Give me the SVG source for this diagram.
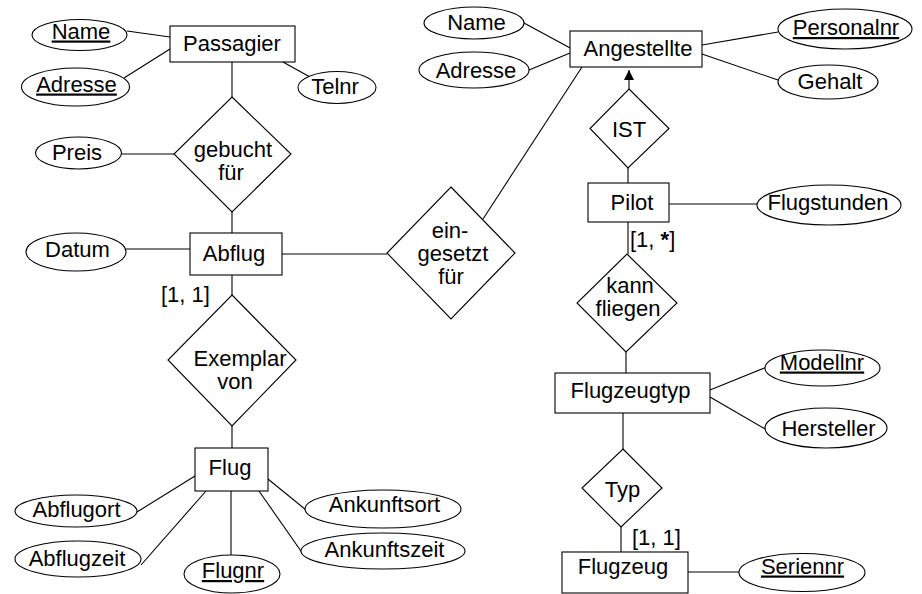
<svg xmlns="http://www.w3.org/2000/svg" width="922" height="594" viewBox="0 0 922 594">
<style>
  .shape { fill: #fff; stroke: #000; stroke-width: 1.1; }
  .conn line { stroke: #000; stroke-width: 1.1; }
  text { font-family: "Liberation Sans", Arial, Helvetica, sans-serif; font-size: 22px; fill: #000; }
  .c { text-anchor: middle; }
  .key { text-decoration: underline; }
</style>
<defs>
  <marker id="arrow" viewBox="0 0 10 10" refX="10" refY="5" markerWidth="10" markerHeight="12" markerUnits="userSpaceOnUse" orient="auto">
    <path d="M0,0 L10,5 L0,10 Z" fill="#000"/>
  </marker>
</defs>
<rect width="922" height="594" fill="#fff"/>

<g id="connectors" class="conn">
  <line x1="127" y1="31" x2="170" y2="37"/>
  <line x1="124" y1="78" x2="170" y2="49"/>
  <line x1="283" y1="62" x2="310" y2="77"/>
  <line x1="232" y1="62" x2="232" y2="97"/>
  <line x1="121.5" y1="154" x2="174" y2="154"/>
  <line x1="232" y1="212" x2="232" y2="233"/>
  <line x1="126" y1="249" x2="190" y2="249"/>
  <line x1="282" y1="254" x2="387" y2="254"/>
  <line x1="232" y1="275" x2="232" y2="295"/>
  <line x1="232" y1="426" x2="232" y2="448"/>
  <line x1="195" y1="476" x2="137" y2="512"/>
  <line x1="206" y1="491" x2="141" y2="565"/>
  <line x1="231" y1="491" x2="231" y2="555"/>
  <line x1="268" y1="479" x2="306" y2="510"/>
  <line x1="259" y1="491" x2="303" y2="554"/>
  <line x1="524" y1="23" x2="572" y2="49"/>
  <line x1="529" y1="70" x2="570" y2="53"/>
  <line x1="702" y1="45" x2="778" y2="32"/>
  <line x1="702" y1="54" x2="778" y2="80"/>
  <line x1="582" y1="67" x2="483" y2="219"/>
  <line x1="629" y1="89" x2="629" y2="70" marker-end="url(#arrow)"/>
  <line x1="628" y1="168" x2="628" y2="183"/>
  <line x1="669" y1="204" x2="757" y2="204"/>
  <line x1="628" y1="222" x2="628" y2="254"/>
  <line x1="626" y1="352" x2="626" y2="373"/>
  <line x1="710" y1="390" x2="767" y2="367"/>
  <line x1="710" y1="397" x2="767" y2="430"/>
  <line x1="623" y1="413" x2="623" y2="449"/>
  <line x1="621" y1="527" x2="621" y2="552"/>
  <line x1="688" y1="572" x2="739" y2="572"/>
</g>

<g id="passagier"><rect class="shape" x="170" y="26" width="125" height="36"/><text class="c" x="232" y="51">Passagier</text></g>
<g id="passagier-name"><ellipse class="shape" cx="79.5" cy="35" rx="47.5" ry="15.5"/><text class="c key" x="81" y="38.5">Name</text></g>
<g id="passagier-adresse"><ellipse class="shape" cx="75.5" cy="87" rx="54" ry="19"/><text class="c key" x="76.5" y="91.5">Adresse</text></g>
<g id="passagier-telnr"><ellipse class="shape" cx="337" cy="87.5" rx="39" ry="16"/><text class="c" x="335" y="94">Telnr</text></g>
<g id="gebucht-fuer"><polygon class="shape" points="232,97 291,154 232,212 174,154"/><text class="c" x="233" y="156.5">gebucht</text><text class="c" x="231" y="179.5">für</text></g>
<g id="preis"><ellipse class="shape" cx="78.5" cy="153" rx="43" ry="16"/><text class="c" x="77" y="159.5">Preis</text></g>
<g id="abflug"><rect class="shape" x="190" y="233" width="92" height="42"/><text class="c" x="234" y="261">Abflug</text></g>
<g id="datum"><ellipse class="shape" cx="76" cy="252" rx="50" ry="19"/><text class="c" x="77.5" y="256.5">Datum</text></g>
<g id="exemplar-von"><polygon class="shape" points="232,295 296,360 232,426 168,360"/><text class="c" x="240" y="366">Exemplar</text><text class="c" x="235" y="389">von</text></g>
<g id="flug"><rect class="shape" x="195" y="448" width="73" height="43"/><text class="c" x="230" y="475">Flug</text></g>
<g id="abflugort"><ellipse class="shape" cx="76" cy="511" rx="61" ry="16"/><text class="c" x="76.5" y="517">Abflugort</text></g>
<g id="abflugzeit"><ellipse class="shape" cx="78" cy="559" rx="63" ry="18"/><text class="c" x="77" y="566">Abflugzeit</text></g>
<g id="flugnr"><ellipse class="shape" cx="232" cy="574" rx="48" ry="19"/><text class="c key" x="233" y="578">Flugnr</text></g>
<g id="ankunftsort"><ellipse class="shape" cx="383" cy="509" rx="78" ry="19"/><text class="c" x="384.5" y="511.5">Ankunftsort</text></g>
<g id="ankunftszeit"><ellipse class="shape" cx="383" cy="551" rx="82" ry="18"/><text class="c" x="384.5" y="556.5">Ankunftszeit</text></g>
<g id="eingesetzt-fuer"><polygon class="shape" points="451,187 515,253 451,319 387,253"/><text class="c" x="450" y="238">ein-</text><text class="c" x="453" y="261">gesetzt</text><text class="c" x="451" y="284">für</text></g>
<g id="angestellte"><rect class="shape" x="570" y="31" width="132" height="36"/><text class="c" x="638" y="56">Angestellte</text></g>
<g id="angestellte-name"><ellipse class="shape" cx="474" cy="23" rx="50" ry="16"/><text class="c" x="476.5" y="29.5">Name</text></g>
<g id="angestellte-adresse"><ellipse class="shape" cx="474" cy="70" rx="55" ry="18"/><text class="c" x="476" y="77.5">Adresse</text></g>
<g id="personalnr"><ellipse class="shape" cx="845" cy="29" rx="67" ry="20"/><text class="c key" x="846" y="35">Personalnr</text></g>
<g id="gehalt"><ellipse class="shape" cx="828" cy="82" rx="50" ry="17"/><text class="c" x="830" y="89">Gehalt</text></g>
<g id="ist"><polygon class="shape" points="629,89 669,128.5 628,168 590,128.5"/><text class="c" x="629" y="136.5">IST</text></g>
<g id="pilot"><rect class="shape" x="588" y="183" width="81" height="39"/><text class="c" x="632" y="210">Pilot</text></g>
<g id="flugstunden"><ellipse class="shape" cx="829" cy="205" rx="72" ry="20"/><text class="c" x="828" y="210">Flugstunden</text></g>
<g id="kann-fliegen"><polygon class="shape" points="627,254 677,303 626,352 577,303"/><text class="c" x="630" y="292.5">kann</text><text class="c" x="628" y="315.5">fliegen</text></g>
<g id="flugzeugtyp"><rect class="shape" x="555" y="373" width="155" height="40"/><text class="c" x="630.5" y="398">Flugzeugtyp</text></g>
<g id="modellnr"><ellipse class="shape" cx="822.5" cy="368" rx="57.5" ry="18"/><text class="c key" x="822" y="369.5">Modellnr</text></g>
<g id="hersteller"><ellipse class="shape" cx="826" cy="428" rx="61" ry="20"/><text class="c" x="828.5" y="436">Hersteller</text></g>
<g id="typ"><polygon class="shape" points="623,449 662,488 621,527 582,488"/><text class="c" x="622.5" y="496.5">Typ</text></g>
<g id="flugzeug"><rect class="shape" x="562" y="552" width="126" height="41"/><text class="c" x="623" y="574">Flugzeug</text></g>
<g id="seriennr"><ellipse class="shape" cx="802" cy="572.5" rx="63" ry="19"/><text class="c key" x="802.5" y="573.5">Seriennr</text></g>

<g id="labels">
  <text x="161" y="302">[1, 1]</text>
  <text x="630" y="247">[1, <tspan font-weight="bold">*</tspan>]</text>
  <text x="632" y="545">[1, 1]</text>
</g>
</svg>
